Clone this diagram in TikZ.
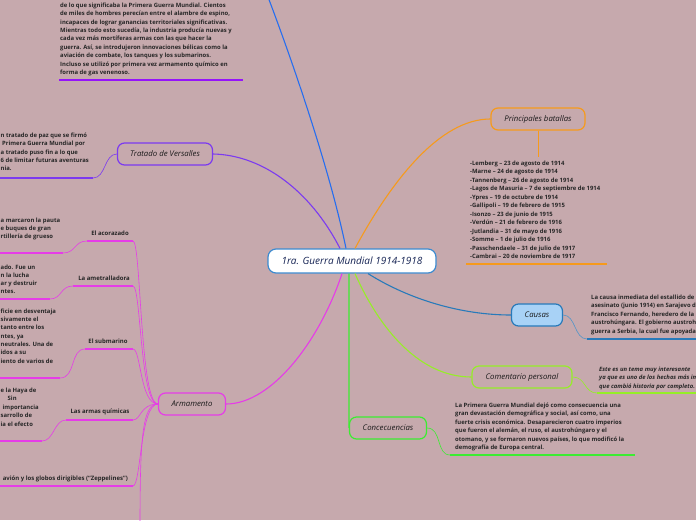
\documentclass[tikz,border=0pt]{standalone}
\usepackage{fontspec}
\setmainfont{Open Sans}
\usetikzlibrary{positioning}
\definecolor{bgmauve}{RGB}{198,169,173}
\definecolor{rootblue}{RGB}{60,139,208}
\definecolor{rootink}{RGB}{22,36,84}
\definecolor{topblue}{RGB}{38,110,240}
\definecolor{versviolet}{RGB}{124,58,240}
\definecolor{armmagenta}{RGB}{230,60,232}
\definecolor{batorange}{RGB}{246,154,28}
\definecolor{causblue}{RGB}{40,122,186}
\definecolor{causfill}{RGB}{168,210,246}
\definecolor{comlime}{RGB}{150,238,40}
\definecolor{conggreen}{RGB}{60,236,50}
\definecolor{topline}{RGB}{150,20,250}

\begin{document}
\begin{tikzpicture}[x=1pt,y=-1pt,
  root/.style={draw=rootblue,fill=white,line width=1.2pt,rounded corners=8pt,minimum width=168pt,minimum height=24pt,inner sep=0pt,font=\fontsize{10}{11}\selectfont\itshape,text=rootink},
  topic/.style={draw,line width=1.2pt,rounded corners=7pt,minimum height=22pt,inner sep=0pt,font=\fontsize{7.8}{9}\selectfont\itshape,text=black!90},
  note/.style={anchor=north west,align=left,inner sep=0pt,font=\fontsize{5.9}{8.4}\selectfont\bfseries,text=black!85},
  sub/.style={inner sep=0pt,font=\fontsize{6}{6.5}\selectfont\bfseries,text=black!85},
  link/.style={line width=1.1pt},
  thin/.style={line width=0.6pt},
  uline/.style={line width=1.4pt}]
\useasboundingbox (0,0) rectangle (696,520);
\fill[bgmauve] (0,0) rectangle (696,520);
\clip (0,0) rectangle (696,520);

% central topic
\node[root] (root) at (352,261) {1ra. Guerra Mundial 1914-1918};

% main branches
\node[topic,draw=versviolet,minimum width=95pt] (versalles) at (165,154) {Tratado de Versalles};
\node[topic,draw=armmagenta,minimum width=67pt] (armamento) at (192,404) {Armamento};
\node[topic,draw=batorange,minimum width=94pt] (batallas) at (538,119) {Principales batallas};
\node[topic,draw=causblue,fill=causfill,minimum width=51pt] (causas) at (537,315) {Causas};
\node[topic,draw=comlime,minimum width=100pt] (comentario) at (522,377) {Comentario personal};
\node[topic,draw=conggreen,minimum width=77pt] (concec) at (388,428) {Concecuencias};

% top branch (off the page)
\coordinate (topend) at (268,-3);
\draw[link,topblue] ([xshift=-6pt]root.north) .. controls (330,170) and (292,60) .. (topend);
\node[note] (topnote) at (60,2.5) {de lo que significaba la Primera Guerra Mundial. Cientos\\
de miles de hombres perecían entre el alambre de espino,\\
incapaces de lograr ganancias territoriales significativas.\\
Mientras todo esto sucedía, la industria producía nuevas y\\
cada vez más mortíferas armas con las que hacer la\\
guerra. Así, se introdujeron innovaciones bélicas como la\\
aviación de combate, los tanques y los submarinos.\\
Incluso se utilizó por primera vez armamento químico en\\
forma de gas venenoso.};
\coordinate (topu1) at (59,80);
\coordinate (topu2) at (243,80);
\draw[uline,topline] (topu1) -- (topu2);

% Tratado de Versalles
\draw[link,versviolet] ([xshift=-12pt]root.north) .. controls (310,190) and (262,155) .. (versalles.east);
\node[note] (versnote) at (0.5,132.5) {n tratado de paz que se firmó\\
\ Primera Guerra Mundial por\\
a tratado puso fin a lo que\\
6 de limitar futuras aventuras\\
nia.};
\coordinate (versu1) at (-2,178);
\coordinate (versu2) at (93,178);
\draw[thin,versviolet] (versalles.west) .. controls (104,154) and (106,178) .. (versu2);
\draw[uline,versviolet] (versu1) -- (versu2);

% Principales batallas
\draw[link,batorange] ([xshift=3pt]root.north) .. controls (392,180) and (440,119) .. (batallas.west);
\coordinate (batdrop) at (538,157);
\draw[thin,batorange] (batallas.south) -- (batdrop);
\node[note,font=\fontsize{5.9}{8.5}\selectfont\bfseries] (batnote) at (470,160.5) {-Lemberg – 23 de agosto de 1914\\
-Marne – 24 de agosto de 1914\\
-Tannenberg – 26 de agosto de 1914\\
-Lagos de Masuria – 7 de septiembre de 1914\\
-Ypres – 19 de octubre de 1914\\
-Gallipoli – 19 de febrero de 1915\\
-Isonzo – 23 de junio de 1915\\
-Verdún – 21 de febrero de 1916\\
-Jutlandia – 31 de mayo de 1916\\
-Somme – 1 de julio de 1916\\
-Passchendaele – 31 de julio de 1917\\
-Cambrai – 20 de noviembre de 1917};
\coordinate (batu1) at (466,264);
\coordinate (batu2) at (607,264);
\draw[uline,batorange] (batu1) -- (batu2);

% Causas
\draw[link,causblue] ([xshift=16pt]root.south) .. controls (410,300) and (462,315) .. (causas.west);
\node[note,font=\fontsize{5.9}{8.5}\selectfont\bfseries] (causnote) at (591,294.5) {La causa inmediata del estallido de\\
asesinato (junio 1914) en Sarajevo d\\
Francisco Fernando, heredero de la\\
austrohúngara. El gobierno austroh\\
guerra a Serbia, la cual fue apoyada};
\coordinate (causu1) at (587,339);
\coordinate (causu2) at (700,339);
\draw[thin,causblue!80!white] (causas.east) .. controls (576,315) and (574,339) .. (causu1);
\draw[uline,causblue] (causu1) -- (causu2);

% Comentario personal
\draw[link,comlime] ([xshift=3pt]root.south) .. controls (380,330) and (420,377) .. (comentario.west);
\node[note,font=\fontsize{5.9}{8.5}\selectfont\bfseries\itshape] (comnote) at (599,366.5) {Este es un tema muy interesante\\
ya que es uno de los hechos más imp\\
que cambió historia por completo.};
\coordinate (comu1) at (597,393);
\coordinate (comu2) at (700,393);
\draw[thin,comlime] (comentario.east) .. controls (586,377) and (584,393) .. (comu1);
\draw[uline,comlime] (comu1) -- (comu2);

% Concecuencias
\draw[link,conggreen] ([xshift=-3pt]root.south) .. controls (349,400) and (349,428) .. (concec.west);
\node[note,font=\fontsize{5.9}{8.5}\selectfont\bfseries] (connote) at (455,402.5) {La Primera Guerra Mundial dejó como consecuencia una\\
gran devastación demográfica y social, así como, una\\
fuerte crisis económica. Desaparecieron cuatro imperios\\
que fueron el alemán, el ruso, el austrohúngaro y el\\
otomano, y se formaron nuevos países, lo que modificó la\\
demografía de Europa central.};
\coordinate (conu1) at (450,455);
\coordinate (conu2) at (635,455);
\draw[thin,conggreen] (concec.east) .. controls (442,428) and (436,455) .. (conu1);
\draw[uline,conggreen] (conu1) -- (conu2);

% Armamento
\draw[link,armmagenta] ([xshift=-10pt]root.south) .. controls (320,340) and (272,404) .. (armamento.east);

% El acorazado
\node[sub] (acorazado) at (110,233) {El acorazado};
\coordinate (acou1) at (87,241);
\coordinate (acou2) at (133,241);
\draw[thin,armmagenta] (armamento.west) .. controls (140,404) and (141,241) .. (acou2);
\draw[uline,armmagenta] (acou1) -- (acou2);
\node[note] (aconote) at (0.5,217.5) {a marcaron la pauta\\
e buques de gran\\
rtillería de grueso};
\coordinate (aconu1) at (-2,253);
\coordinate (aconu2) at (63,253);
\draw[thin,armmagenta] (acou1) .. controls (74,241) and (76,253) .. (aconu2);
\draw[uline,armmagenta] (aconu1) -- (aconu2);

% La ametralladora
\node[sub] (ametra) at (104,278) {La ametralladora};
\coordinate (ameu1) at (73,286);
\coordinate (ameu2) at (133,286);
\draw[thin,armmagenta] (armamento.west) .. controls (140,404) and (141,286) .. (ameu2);
\draw[uline,armmagenta] (ameu1) -- (ameu2);
\node[note,font=\fontsize{5.9}{8}\selectfont\bfseries] (amenote) at (0.5,264.5) {ado. Fue un\\
n la lucha\\
ar y destruir\\
ntes.};
\coordinate (amenu1) at (-2,299);
\coordinate (amenu2) at (50,299);
\draw[thin,armmagenta] (ameu1) .. controls (60,286) and (62,299) .. (amenu2);
\draw[uline,armmagenta] (amenu1) -- (amenu2);

% El submarino
\node[sub] (submarino) at (108,341) {El submarino};
\coordinate (subu1) at (85,349);
\coordinate (subu2) at (133,349);
\draw[thin,armmagenta] (armamento.west) .. controls (140,404) and (141,349) .. (subu2);
\draw[uline,armmagenta] (subu1) -- (subu2);
\node[note,font=\fontsize{5.9}{8.3}\selectfont\bfseries] (subnote) at (0.5,308.5) {ficie en desventaja\\
sivamente el\\
tanto entre los\\
ntes, ya\\
neutrales. Una de\\
idos a su\\
iento de varios de};
\coordinate (subnu1) at (-2,378);
\coordinate (subnu2) at (60,378);
\draw[thin,armmagenta] (subu1) .. controls (70,349) and (76,378) .. (subnu2);
\draw[uline,armmagenta] (subnu1) -- (subnu2);

% Las armas quimicas
\node[sub] (quimicas) at (100,412) {Las armas químicas};
\coordinate (quiu1) at (66,420);
\coordinate (quiu2) at (133,420);
\draw[thin,armmagenta] (armamento.west) .. controls (140,404) and (141,420) .. (quiu2);
\draw[uline,armmagenta] (quiu1) -- (quiu2);
\node[note,font=\fontsize{5.9}{8.5}\selectfont\bfseries] (quinote) at (0.5,387.5) {e la Haya de\\
\hspace*{7pt}Sin\\
\hspace*{2pt}importancia\\
sarrollo de\\
ia el efecto};
\coordinate (quinu1) at (-2,441);
\coordinate (quinu2) at (42,441);
\draw[thin,armmagenta] (quiu1) .. controls (54,420) and (54,441) .. (quinu2);
\draw[uline,armmagenta] (quinu1) -- (quinu2);

% El avion y los globos
\node[sub,anchor=east] (avion) at (128,479) {avión y los globos dirigibles (“Zeppelines”)};
\coordinate (avu1) at (-2,486);
\coordinate (avu2) at (133,486);
\draw[thin,armmagenta] (armamento.west) .. controls (140,404) and (141,486) .. (avu2);
\draw[uline,armmagenta] (avu1) -- (avu2);

% branch below the page
\coordinate (armbot) at (140,530);
\draw[thin,armmagenta] (armamento.west) .. controls (142,404) and (140,440) .. (armbot);
\end{tikzpicture}
\end{document}
